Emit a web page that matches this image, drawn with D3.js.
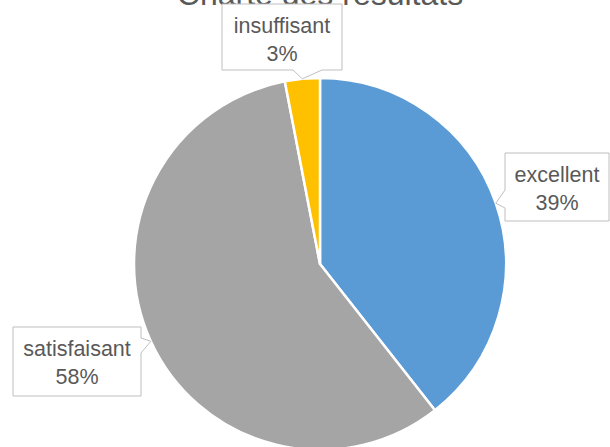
<!DOCTYPE html>
<html>
<head>
<meta charset="utf-8">
<script src="https://cdn.jsdelivr.net/npm/d3@7"></script>
<style>
html,body{margin:0;padding:0;background:#fff;}
svg{display:block;}
text{font-family:"Liberation Sans",Arial,sans-serif;fill:#595959;}
</style>
</head>
<body>
<div id="chart"></div>
<script>
// Data
const title = "Charte des résultats";
const categories = ["excellent", "satisfaisant", "insuffisant"];
const values = [13, 19, 1];
const colors = ["#5B9BD5", "#A5A5A5", "#FFC000"];

// Layout
const W = 610, H = 447;
const cx = 320, cy = 264, R = 186;
// callout boxes: [x, y, w, h, side, base0, base1]
const boxes = [
  {x:505, y:153, w:104, h:68, side:"left",   b0:190, b1:208},
  {x:13,  y:327, w:128, h:69, side:"right",  b0:338, b1:353},
  {x:222, y:4,   w:120, h:66, side:"bottom", b0:293, b1:322}
];

const svg = d3.select("#chart").append("svg").attr("width", W).attr("height", H);

svg.append("text")
  .attr("x", 320).attr("y", 5)
  .attr("text-anchor", "middle")
  .style("font-size", "32px")
  .text(title);

const total = d3.sum(values);
const pie = d3.pie().sort(null).value(d => d)(values);
const arc = d3.arc().innerRadius(0).outerRadius(R);

const g = svg.append("g").attr("transform", `translate(${cx},${cy})`);
g.selectAll("path").data(pie).join("path")
  .attr("d", arc)
  .attr("fill", (d, i) => colors[i])
  .attr("stroke", "#fff")
  .attr("stroke-width", 2.5)
  .attr("stroke-linejoin", "round");

// callouts
pie.forEach((d, i) => {
  const b = boxes[i];
  const mid = (d.startAngle + d.endAngle) / 2;
  const tx = cx + R * Math.sin(mid), ty = cy - R * Math.cos(mid);
  const x0 = b.x, y0 = b.y, x1 = b.x + b.w, y1 = b.y + b.h;
  let p;
  if (b.side === "left") {
    p = `M${x0},${y0}L${x1},${y0}L${x1},${y1}L${x0},${y1}L${x0},${b.b1}L${tx},${ty}L${x0},${b.b0}Z`;
  } else if (b.side === "right") {
    p = `M${x0},${y0}L${x1},${y0}L${x1},${b.b0}L${tx},${ty}L${x1},${b.b1}L${x1},${y1}L${x0},${y1}Z`;
  } else {
    p = `M${x0},${y0}L${x1},${y0}L${x1},${y1}L${b.b1},${y1}L${tx},${ty}L${b.b0},${y1}L${x0},${y1}Z`;
  }
  svg.append("path").attr("d", p)
    .attr("fill", "#fff").attr("stroke", "#BFBFBF").attr("stroke-width", 1);
  const t = svg.append("text")
    .attr("text-anchor", "middle")
    .style("font-size", "21.5px");
  t.append("tspan").attr("x", b.x + b.w / 2).attr("y", b.y + 29).text(categories[i]);
  t.append("tspan").attr("x", b.x + b.w / 2).attr("y", b.y + 57)
    .text(Math.round(values[i] / total * 100) + "%");
});
</script>
</body>
</html>
